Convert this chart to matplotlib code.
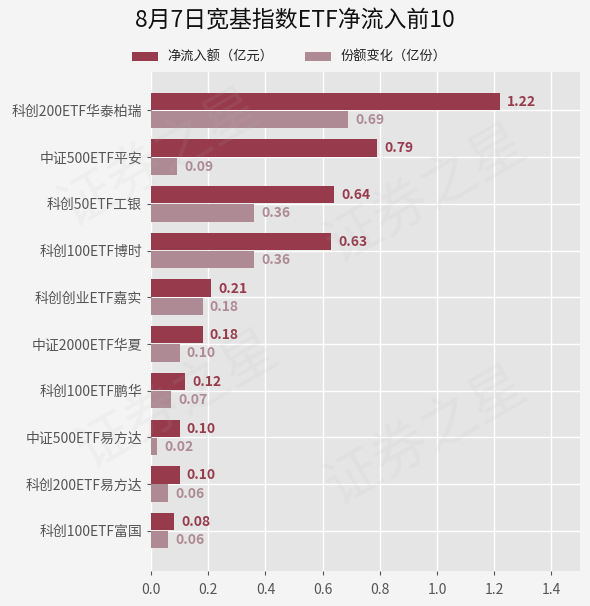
import matplotlib
matplotlib.use("Agg")
import matplotlib.pyplot as plt
import numpy as np

plt.rcParams['font.family'] = ['Noto Sans CJK SC', 'DejaVu Sans']

names = ['科创200ETF华泰柏瑞', '中证500ETF平安', '科创50ETF工银', '科创100ETF博时',
         '科创创业ETF嘉实', '中证2000ETF华夏', '科创100ETF鹏华', '中证500ETF易方达',
         '科创200ETF易方达', '科创100ETF富国']
inflow = [1.22, 0.79, 0.64, 0.63, 0.21, 0.18, 0.12, 0.10, 0.10, 0.08]
share_chg = [0.69, 0.09, 0.36, 0.36, 0.18, 0.10, 0.07, 0.02, 0.06, 0.06]

c_dark = '#963a4c'
c_light = '#ad8a94'

fig = plt.figure(figsize=(5.9, 6.06), dpi=100, facecolor='#f4f4f4')
ax = fig.add_axes([0.256, 0.058, 0.727, 0.823])
ax.set_facecolor('#e5e5e5')

y = np.arange(len(names))
h = 0.37
ax.barh(y - h / 2 - 0.01, inflow, height=h, color=c_dark, label='净流入额（亿元）', zorder=3)
ax.barh(y + h / 2 + 0.01, share_chg, height=h, color=c_light, label='份额变化（亿份）', zorder=3)

for i in range(len(names)):
    ax.text(inflow[i] + 0.025, y[i] - h / 2, f'{inflow[i]:.2f}', va='center', ha='left',
            fontsize=10, fontweight='bold', color=c_dark, zorder=4)
    ax.text(share_chg[i] + 0.025, y[i] + h / 2 + 0.02, f'{share_chg[i]:.2f}', va='center', ha='left',
            fontsize=10, fontweight='bold', color=c_light, zorder=4)

ax.set_yticks(y)
ax.set_yticklabels(names)
ax.set_ylim(9.86, -0.82)
ax.set_xlim(0, 1.5)
ax.set_xticks(np.arange(0, 1.41, 0.2))
ax.set_xticklabels([f'{v:.1f}' for v in np.arange(0, 1.41, 0.2)])
ax.tick_params(axis='both', colors='#555555', labelsize=10, length=3)
ax.tick_params(axis='x', pad=6)
ax.grid(True, color='white', linewidth=1, zorder=0)
ax.set_axisbelow(True)
for s in ax.spines.values():
    s.set_visible(False)

# faint watermark
for (wx, wy) in [(0.27, 0.74), (0.72, 0.68), (0.30, 0.34), (0.72, 0.28)]:
    fig.text(wx, wy, '证券之星', fontsize=40, color='#bbbbbb', alpha=0.10, rotation=30,
             ha='center', va='center', zorder=10)

fig.suptitle('8月7日宽基指数ETF净流入前10', fontsize=16.5, y=0.985, color='#111111')
fig.legend(loc='center', bbox_to_anchor=(0.49, 0.905), ncol=2, frameon=False,
           fontsize=9.5, handlelength=2.0, handleheight=0.75, handletextpad=0.7,
           columnspacing=2.4, labelcolor='#222222')

fig.savefig('out.png', dpi=100, facecolor=fig.get_facecolor())
